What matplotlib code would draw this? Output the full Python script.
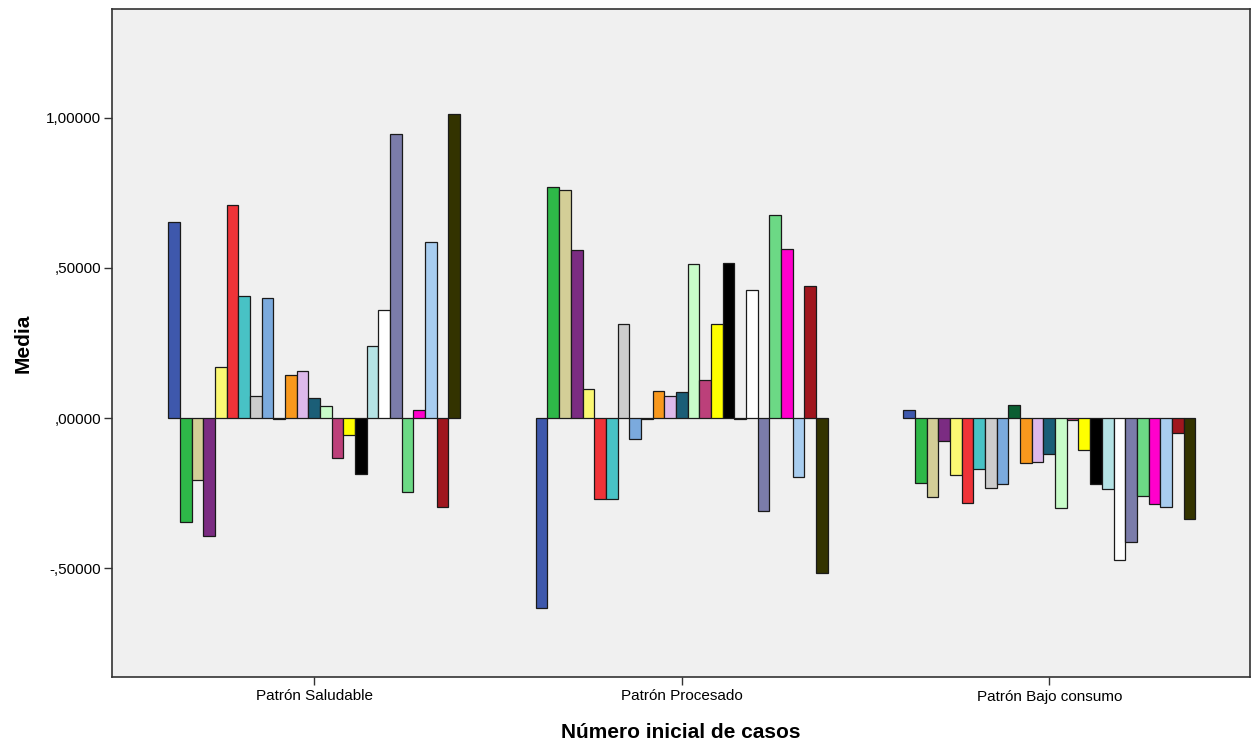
import numpy as np
import matplotlib.pyplot as plt

# grupos (patrones) y medias de cada uno de los 25 casos iniciales
grupos = ['Patrón Saludable', 'Patrón Procesado', 'Patrón Bajo consumo']

saludable = [0.652, -0.346, -0.207, -0.393, 0.171, 0.709, 0.407, 0.074, 0.400, -0.003,
             0.144, 0.156, 0.068, 0.041, -0.134, -0.057, -0.185, 0.241, 0.359, 0.946,
             -0.248, 0.028, 0.586, -0.296, 1.013]
procesado = [-0.634, 0.769, 0.760, 0.559, 0.096, -0.271, -0.270, 0.312, -0.070, -0.003,
             0.089, 0.072, 0.087, 0.514, 0.126, 0.313, 0.517, -0.003, 0.427, -0.310,
             0.677, 0.563, -0.198, 0.440, -0.518]
bajo_consumo = [0.028, -0.215, -0.262, -0.077, -0.189, -0.282, -0.170, -0.232, -0.219, 0.042,
                -0.151, -0.145, -0.120, -0.301, -0.007, -0.107, -0.221, -0.237, -0.472, -0.412,
                -0.259, -0.287, -0.297, -0.051, -0.337]

colores = ['#3E58AC', '#2EB848', '#D3CE97', '#7B2C82', '#FBF873', '#EF3338', '#48C2C5',
           '#CCCCCC', '#7BAADD', '#0B5E32', '#F8981D', '#DDB9EB', '#1B5E77', '#C8FCC9',
           '#BC407A', '#FFFF00', '#000000', '#B5E3E5', '#FFFFFF', '#7B7CAA', '#6CD985',
           '#FF00CC', '#A8CDEF', '#A0161E', '#333300']

plt.rcParams['font.family'] = ['Liberation Sans', 'DejaVu Sans']

datos = np.array([saludable, procesado, bajo_consumo])  # 3 x 25
n = datos.shape[1]
x = np.arange(len(grupos))
ancho = 0.794 / n

fig = plt.figure(figsize=(12.51, 7.45), dpi=100)
ax = fig.add_axes([112/1251, 1 - 677/745, (1250-112)/1251, (677-9)/745])
ax.set_facecolor('#F0F0F0')

for i in range(n):
    pos = x - 0.397 + ancho*(i + 0.5)
    ax.bar(pos, datos[:, i], width=ancho, color=colores[i],
           edgecolor='#1a1a1a', linewidth=0.9, zorder=2)

ax.set_xlim(-0.55, 2.546)
ax.set_ylim(-0.863, 1.363)
ax.set_yticks([-0.5, 0, 0.5, 1.0])
ax.set_yticklabels(['-,50000', ',00000', ',50000', '1,00000'])
ax.set_xticks(x)
ax.set_xticklabels(grupos)
ax.tick_params(axis='both', labelsize=11, color='#333333', length=6, width=1)
ax.tick_params(axis='x', pad=3)
ax.tick_params(axis='y', pad=2)

for s in ax.spines.values():
    s.set_color('#333333')
    s.set_linewidth(1.2)

ax.set_xlabel('Número inicial de casos', fontsize=15, fontweight='bold')
ax.xaxis.set_label_coords(0.5, -0.069)
ax.set_ylabel('Media', fontsize=15, fontweight='bold')
ax.yaxis.set_label_coords(-0.070, 0.5)

plt.savefig('out.png', dpi=100)
